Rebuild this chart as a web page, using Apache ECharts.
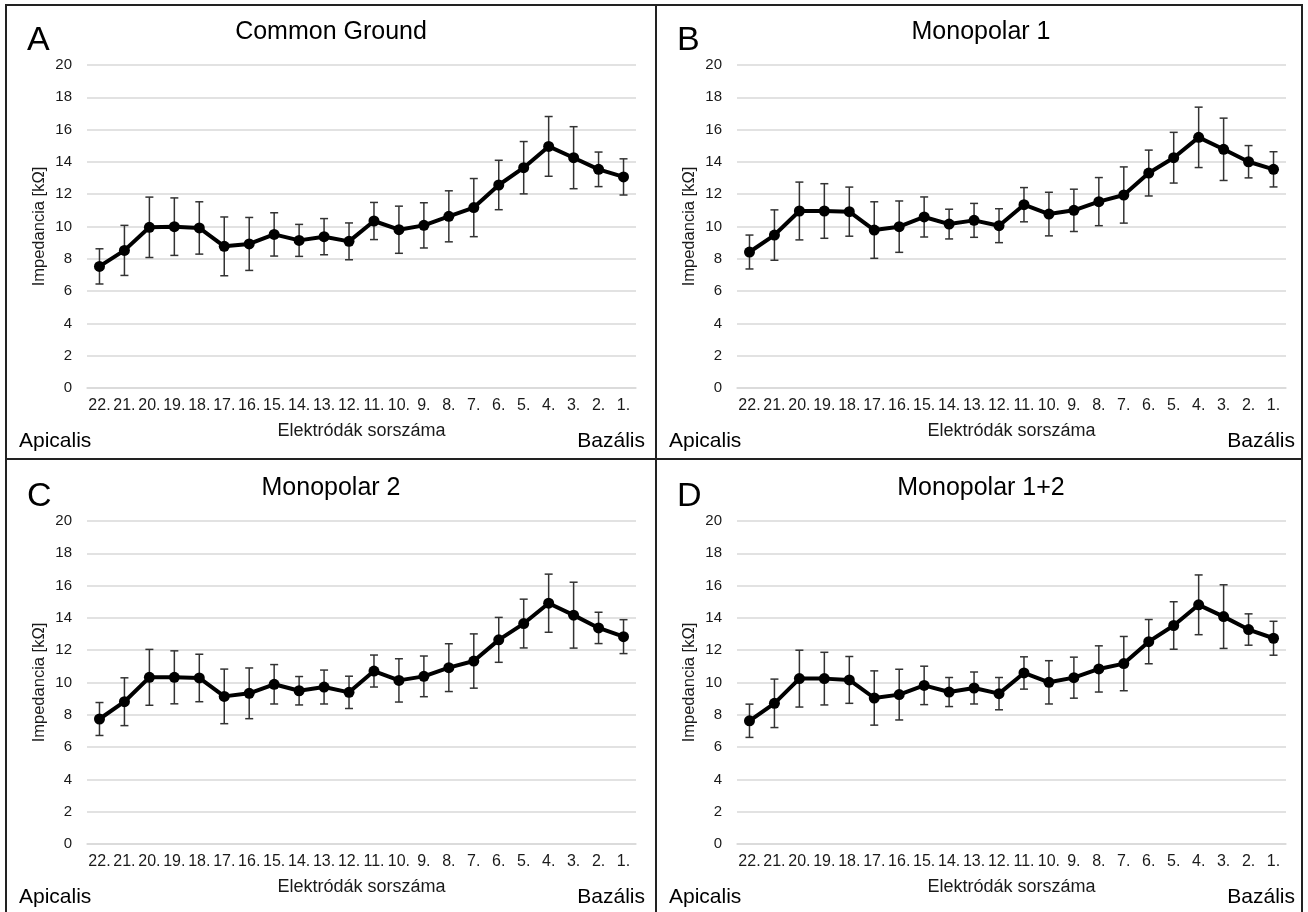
<!DOCTYPE html>
<html>
<head>
<meta charset="utf-8">
<script src="https://cdn.jsdelivr.net/npm/echarts@6/dist/echarts.min.js"></script>
<style>
  html, body { margin: 0; padding: 0; background: #fff; }
  #chart { width: 1308px; height: 912px; }
</style>
</head>
<body>
<div id="chart"></div>
<script>
// electrode numbers, apical -> basal
const categories = ['22.', '21.', '20.', '19.', '18.', '17.', '16.', '15.', '14.', '13.', '12.', '11.', '10.', '9.', '8.', '7.', '6.', '5.', '4.', '3.', '2.', '1.']
const yTicks = [0, 20, 2] // min, max, step

// impedance means [kOhm] and +/- error per electrode
const cgMean = [7.53, 8.52, 9.95, 9.99, 9.91, 8.77, 8.92, 9.51, 9.14, 9.37, 9.08, 10.34, 9.80, 10.07, 10.63, 11.17, 12.57, 13.64, 14.96, 14.26, 13.54, 13.07]
const cgErr = [1.09, 1.55, 1.87, 1.78, 1.62, 1.82, 1.64, 1.34, 0.99, 1.12, 1.14, 1.15, 1.46, 1.40, 1.58, 1.80, 1.53, 1.62, 1.85, 1.92, 1.07, 1.12]

const m1Mean = [8.42, 9.47, 10.96, 10.96, 10.92, 9.78, 9.99, 10.59, 10.15, 10.38, 10.05, 11.35, 10.77, 11.0, 11.54, 11.95, 13.31, 14.26, 15.52, 14.78, 14.01, 13.54]
const m1Err = [1.05, 1.56, 1.79, 1.69, 1.52, 1.75, 1.59, 1.24, 0.92, 1.05, 1.05, 1.06, 1.35, 1.31, 1.49, 1.74, 1.42, 1.57, 1.87, 1.93, 1.0, 1.09]

const m2Mean = [7.74, 8.81, 10.32, 10.32, 10.28, 9.14, 9.33, 9.89, 9.49, 9.72, 9.39, 10.71, 10.13, 10.38, 10.92, 11.33, 12.64, 13.65, 14.91, 14.17, 13.38, 12.84]
const m2Err = [1.02, 1.48, 1.73, 1.64, 1.47, 1.69, 1.57, 1.22, 0.88, 1.05, 1.0, 0.99, 1.34, 1.26, 1.48, 1.68, 1.39, 1.51, 1.80, 2.04, 0.97, 1.05]

const m12Mean = [7.63, 8.71, 10.24, 10.24, 10.16, 9.04, 9.25, 9.82, 9.41, 9.66, 9.31, 10.59, 10.01, 10.30, 10.84, 11.17, 12.53, 13.53, 14.81, 14.08, 13.28, 12.74]
const m12Err = [1.03, 1.50, 1.76, 1.63, 1.45, 1.68, 1.57, 1.19, 0.90, 0.99, 1.0, 1.0, 1.34, 1.27, 1.43, 1.68, 1.37, 1.47, 1.85, 1.97, 0.97, 1.05]

const panels = [
  { letter: 'A', title: 'Common Ground', mean: cgMean, err: cgErr },
  { letter: 'B', title: 'Monopolar 1', mean: m1Mean, err: m1Err },
  { letter: 'C', title: 'Monopolar 2', mean: m2Mean, err: m2Err },
  { letter: 'D', title: 'Monopolar 1+2', mean: m12Mean, err: m12Err }
]

// layout of the 2x2 figure (pixels)
const colX = [0, 650]
const rowY = [0, 456]
const FONT = '"Liberation Sans", Arial, sans-serif'

const chart = echarts.init(document.getElementById('chart'))

function renderErrorBar(params, api) {
  const i = api.value(0)
  const hi = api.coord([i, api.value(1)])
  const lo = api.coord([i, api.value(2)])
  const w = 4
  const style = { stroke: '#333', lineWidth: 1.5 }
  return {
    type: 'group',
    children: [
      { type: 'line', shape: { x1: hi[0], y1: hi[1], x2: lo[0], y2: lo[1] }, style },
      { type: 'line', shape: { x1: hi[0] - w, y1: hi[1], x2: hi[0] + w, y2: hi[1] }, style },
      { type: 'line', shape: { x1: lo[0] - w, y1: lo[1], x2: lo[0] + w, y2: lo[1] }, style }
    ]
  }
}

const grid = []
const xAxis = []
const yAxis = []
const series = []
const graphic = []

panels.forEach((p, k) => {
  const ox = colX[k % 2]
  const oy = rowY[Math.floor(k / 2)]
  grid.push({ left: ox + 87, top: oy + 65, width: 549, height: 323 })
  xAxis.push({
    type: 'category',
    gridIndex: k,
    data: categories,
    boundaryGap: true,
    axisLine: { lineStyle: { color: '#d9d9d9', width: 1.5 } },
    axisTick: { show: false },
    axisLabel: { interval: 0, color: '#1a1a1a', fontSize: 16, fontFamily: FONT, margin: 10 },
    name: 'Elektródák sorszáma',
    nameLocation: 'middle',
    nameGap: 34,
    nameTextStyle: { color: '#1a1a1a', fontSize: 18, fontFamily: FONT }
  })
  yAxis.push({
    type: 'value',
    gridIndex: k,
    min: yTicks[0],
    max: yTicks[1],
    interval: yTicks[2],
    axisLine: { show: false },
    axisTick: { show: false },
    splitLine: { lineStyle: { color: '#d9d9d9', width: 1.5 } },
    axisLabel: { color: '#1a1a1a', fontSize: 15, fontFamily: FONT, margin: 15 },
    name: 'Impedancia [kΩ]',
    nameLocation: 'middle',
    nameRotate: 90,
    nameGap: 39,
    nameTextStyle: { color: '#1a1a1a', fontSize: 16.5, fontFamily: FONT }
  })
  series.push({
    type: 'custom',
    xAxisIndex: k,
    yAxisIndex: k,
    z: 1,
    silent: true,
    renderItem: renderErrorBar,
    data: categories.map((c, i) => [i, p.mean[i] + p.err[i], p.mean[i] - p.err[i]])
  })
  series.push({
    type: 'line',
    xAxisIndex: k,
    yAxisIndex: k,
    z: 3,
    data: p.mean,
    symbol: 'circle',
    symbolSize: 11,
    lineStyle: { color: '#000', width: 4 },
    itemStyle: { color: '#000' }
  })

  // panel texts
  graphic.push(
    { type: 'text', x: ox + 27, y: oy + 41, style: { text: p.letter, font: '34px ' + FONT, fill: '#000', align: 'left', verticalAlign: 'middle' } },
    { type: 'text', x: ox + 331, y: oy + 32, style: { text: p.title, font: '25px ' + FONT, fill: '#000', align: 'center', verticalAlign: 'middle' } },
    { type: 'text', x: ox + 19, y: oy + 441, style: { text: 'Apicalis', font: '21px ' + FONT, fill: '#000', align: 'left', verticalAlign: 'middle' } },
    { type: 'text', x: ox + 645, y: oy + 441, style: { text: 'Bazális', font: '21px ' + FONT, fill: '#000', align: 'right', verticalAlign: 'middle' } }
  )
})

// frame and dividers
graphic.push(
  { type: 'rect', shape: { x: 6, y: 5, width: 1296, height: 920 }, style: { fill: null, stroke: '#222', lineWidth: 2 }, z: 10 },
  { type: 'line', shape: { x1: 656, y1: 5, x2: 656, y2: 912 }, style: { stroke: '#222', lineWidth: 2 }, z: 10 },
  { type: 'line', shape: { x1: 6, y1: 459, x2: 1302, y2: 459 }, style: { stroke: '#222', lineWidth: 2 }, z: 10 }
)

const option = {
  animation: false,
  backgroundColor: '#fff',
  grid,
  xAxis,
  yAxis,
  series,
  graphic
}

option && chart.setOption(option)
</script>
</body>
</html>
